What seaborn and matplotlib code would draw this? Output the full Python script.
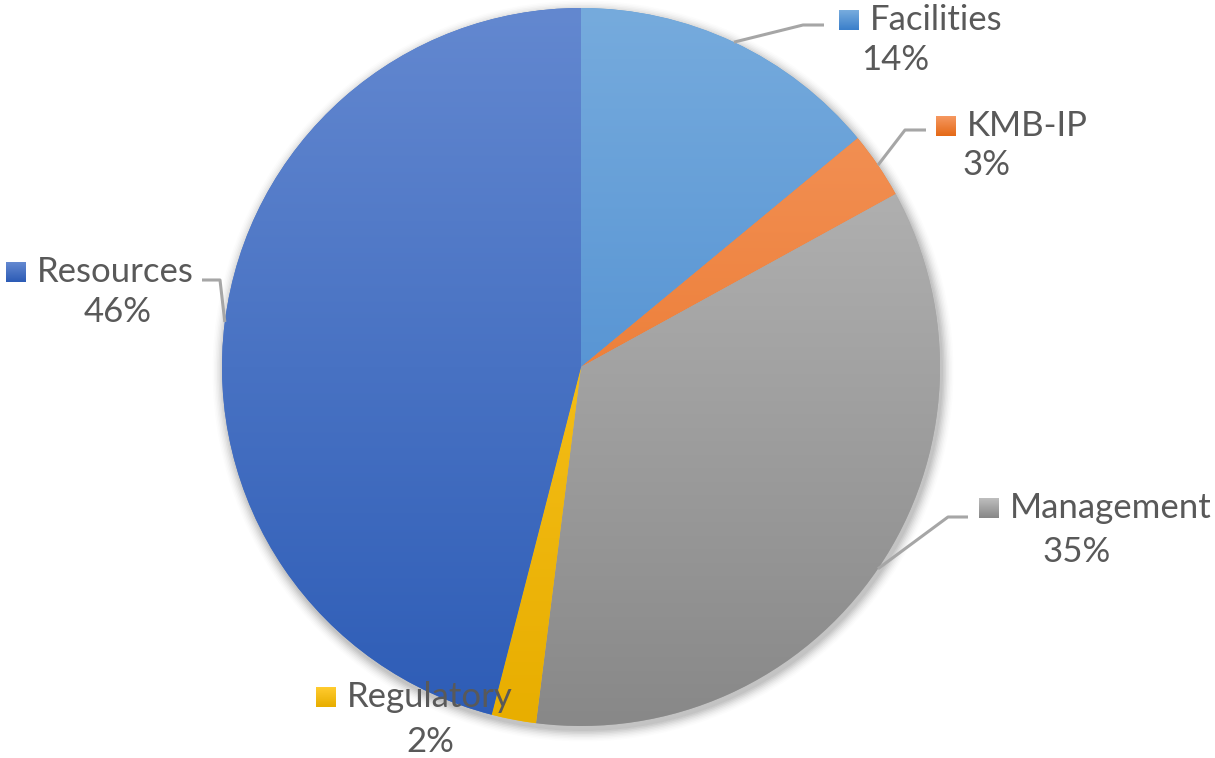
import matplotlib
matplotlib.use("Agg")
import matplotlib.pyplot as plt
import matplotlib.colors as mcolors
import numpy as np
import seaborn as sns

categories = ["Facilities", "KMB-IP", "Management", "Regulatory", "Resources"]
shares = [14, 3, 35, 2, 46]
pct_labels = ["14%", "3%", "35%", "2%", "46%"]
base_colors = ["#5B9BD5", "#ED7D31", "#A5A5A5", "#FFC000", "#4472C4"]
# gradient ends (top of pie -> bottom of pie), Office style fill
top_colors = ["#76ABDD", "#F5975F", "#BDBDBD", "#FFCB2E", "#6388D0"]
bottom_colors = ["#3C80CB", "#E56A18", "#888888", "#E8AE00", "#2D5CB6"]

W, H = 1215, 758
CX, CY, R = 581, 367, 359

# label layout in pixel coords: marker x, name y, pct centre x, pct y, elbow points
label_layout = {
    "Facilities": dict(mx=849, ny=20, px=895, py=60, elbow=[(803, 25), (824, 25)]),
    "KMB-IP": dict(mx=946, ny=126, px=987, py=165, elbow=[(905, 130), (926, 130)]),
    "Management": dict(mx=989, ny=508, px=1077, py=552, elbow=[(948, 517), (968, 517)]),
    "Regulatory": dict(mx=326, ny=697, px=430, py=742, elbow=None),
    "Resources": dict(mx=16, ny=272, px=118, py=312, elbow=[(220, 280), (202, 280)]),
}

TEXT_COLOR = "#595959"
LINE_COLOR = "#A6A6A6"

sns.set_theme(style="white")
plt.rcParams["font.family"] = ["Lato", "DejaVu Sans"]


def fy(y):
    return H - y


def gradient(top, bottom, n=256):
    t = np.linspace(0, 1, n)[:, None]
    col = np.array(mcolors.to_rgb(top)) * (1 - t) + np.array(mcolors.to_rgb(bottom)) * t
    return np.repeat(col[:, None, :], 2, axis=1)


fig = plt.figure(figsize=(W / 100, H / 100), dpi=100)
ax = fig.add_axes([0, 0, 1, 1])

# soft shadow
for i, a in enumerate(np.linspace(0.05, 0.012, 8)):
    ax.add_patch(plt.Circle((CX + 2, fy(CY) - 4), R + 1 + i * 1.5, color="black", alpha=a, lw=0, zorder=0))

wedges, _ = ax.pie(shares, colors=base_colors, startangle=90, counterclock=False,
                   center=(CX, fy(CY)), radius=R, frame=True,
                   wedgeprops=dict(linewidth=0, zorder=1))
ax.set_aspect("equal")
ax.axis("off")

for w, t, b in zip(wedges, top_colors, bottom_colors):
    im = ax.imshow(gradient(t, b), extent=(CX - R, CX + R, fy(CY + R), fy(CY - R)),
                   aspect="auto", zorder=2, interpolation="bilinear")
    im.set_clip_path(w)

cum = np.cumsum([0] + shares[:-1])
for name, share, start, pct, t, b in zip(categories, shares, cum, pct_labels, top_colors, bottom_colors):
    lay = label_layout[name]
    mid = 90 - (start + share / 2) / sum(shares) * 360
    rx = CX + R * np.cos(np.radians(mid))
    ry = fy(CY) + R * np.sin(np.radians(mid))
    if lay["elbow"]:
        xs = [rx] + [p[0] for p in lay["elbow"]]
        ys = [ry] + [fy(p[1]) for p in lay["elbow"]]
        ax.plot(xs, ys, color=LINE_COLOR, lw=2.2, zorder=3, solid_capstyle="butt")
    ax.imshow(gradient(t, b, 16), extent=(lay["mx"] - 10, lay["mx"] + 10, fy(lay["ny"]) - 10, fy(lay["ny"]) + 10),
              aspect="auto", zorder=4, interpolation="bilinear")
    ax.text(lay["mx"] + 21, fy(lay["ny"]), name, fontsize=25, color=TEXT_COLOR,
            ha="left", va="center", zorder=5)
    ax.text(lay["px"], fy(lay["py"]), pct, fontsize=25, color=TEXT_COLOR,
            ha="center", va="center", zorder=5)

ax.set_xlim(0, W)
ax.set_ylim(0, H)
fig.savefig("out.png", dpi=100)
